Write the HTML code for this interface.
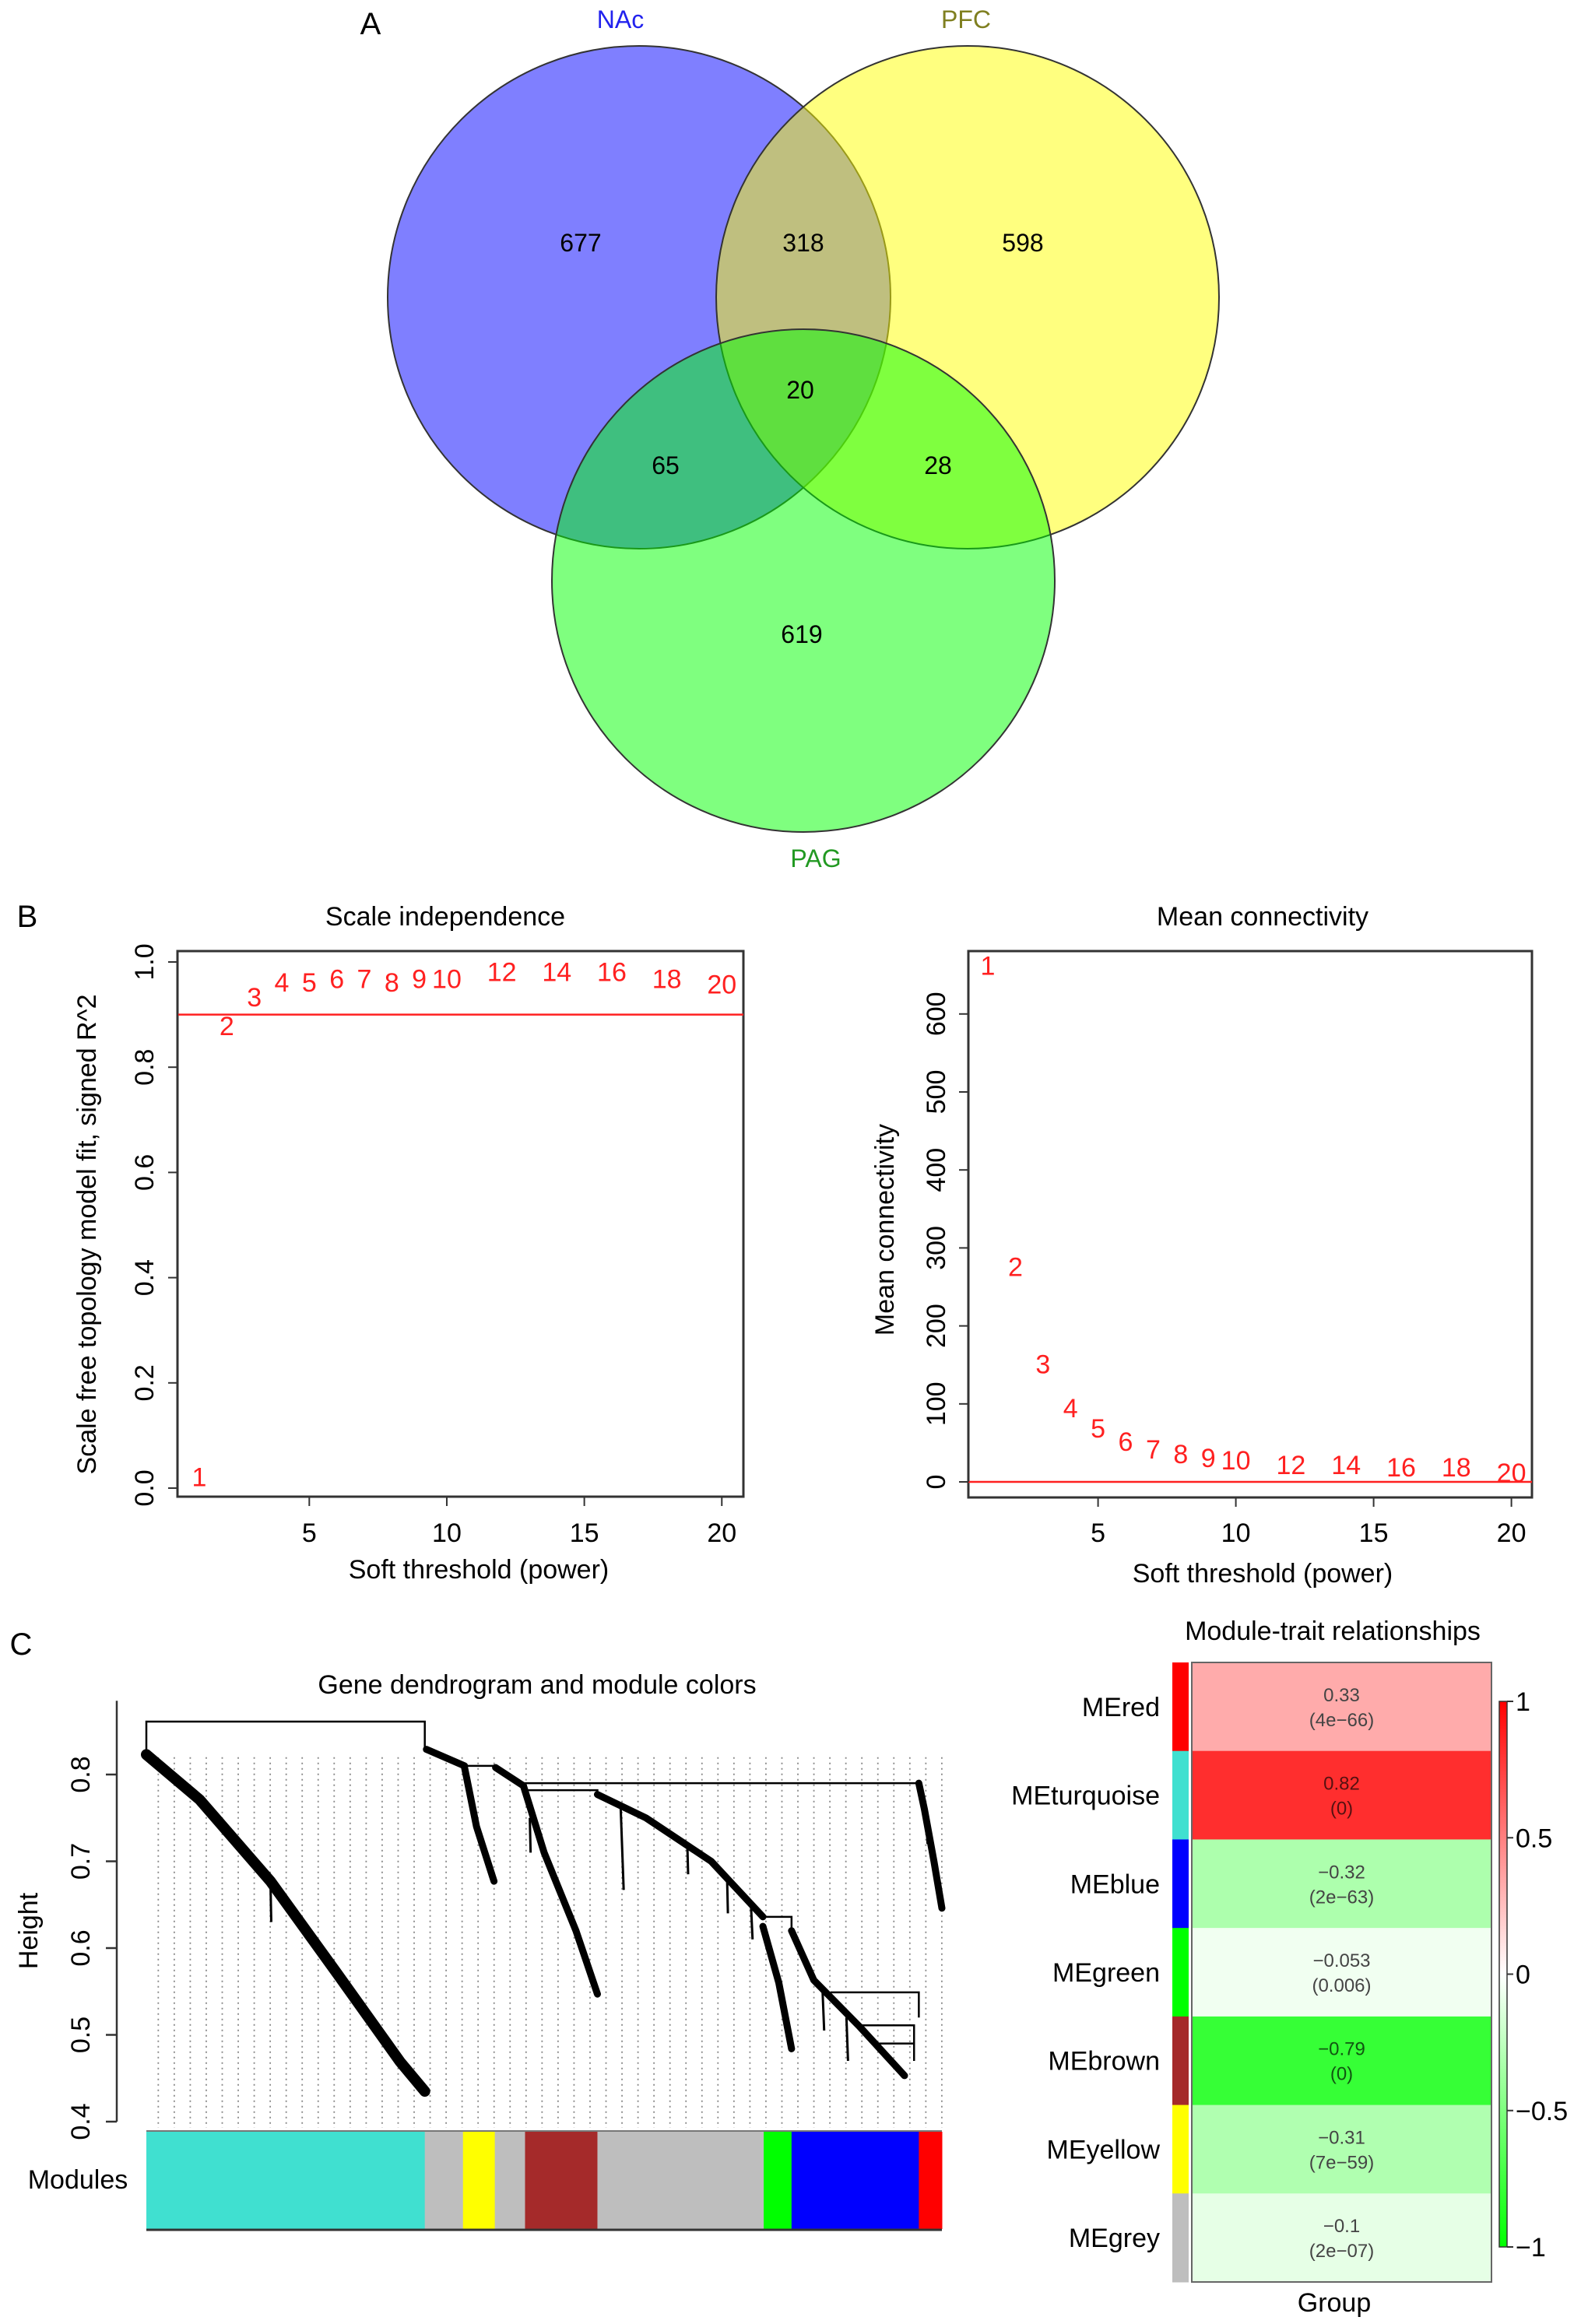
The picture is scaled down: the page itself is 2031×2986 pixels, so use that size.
<!DOCTYPE html>
<html><head><meta charset="utf-8"><style>
html,body{margin:0;padding:0;background:#fff}
svg{display:block;font-family:"Liberation Sans",sans-serif}
</style></head><body>
<svg id="fig" width="2031" height="2986" viewBox="0 0 2031 2986" xmlns="http://www.w3.org/2000/svg">
<rect width="2031" height="2986" fill="#fff"/>
<g transform="translate(-4,-2)">
<text x="480" y="46" font-size="40" text-anchor="middle">A</text>
<circle cx="825" cy="384" r="323" fill="#0000ff" fill-opacity="0.5" stroke="#333" stroke-width="2"/>
<circle cx="1247" cy="384" r="323" fill="#ffff00" fill-opacity="0.5" stroke="#333" stroke-width="2"/>
<circle cx="1036" cy="748" r="323" fill="#00ff00" fill-opacity="0.5" stroke="#333" stroke-width="2"/>
<g font-size="32" text-anchor="middle" fill="#000">
<text x="801" y="38" fill="#2222ee">NAc</text>
<text x="1245" y="38" fill="#7f7f20">PFC</text>
<text x="1052" y="1116" fill="#229922">PAG</text>
<text x="750" y="325">677</text>
<text x="1036" y="325">318</text>
<text x="1318" y="325">598</text>
<text x="1032" y="514">20</text>
<text x="859" y="611">65</text>
<text x="1209" y="611">28</text>
<text x="1034" y="828">619</text>
</g>
</g>
<text x="35" y="1191" font-size="40" text-anchor="middle">B</text>
<text x="27" y="2126" font-size="40" text-anchor="middle">C</text>
<g id="gB1"></g>
<g id="gB2"></g>
<g id="gC1"></g>
<g id="gC2"></g>
<defs>
<linearGradient id="cbar" x1="0" y1="0" x2="0" y2="1">
<stop offset="0" stop-color="#ff0000"/><stop offset="0.5" stop-color="#ffffff"/><stop offset="1" stop-color="#00ff00"/>
</linearGradient>
</defs>
</svg>
<script>
const powers = [1,2,3,4,5,6,7,8,9,10,12,14,16,18,20];
const sftR2 = [0.02,0.877,0.932,0.96,0.96,0.967,0.967,0.96,0.967,0.967,0.98,0.98,0.98,0.967,0.956];
const meanK = [655,269,144,88,62,45,35,29,24,21,15,15,12,12,5];
const r2Ticks = [0,0.2,0.4,0.6,0.8,1.0];
const r2TickLabels = ["0.0","0.2","0.4","0.6","0.8","1.0"];
const kTicks = [0,100,200,300,400,500,600];
const xTicks = [5,10,15,20];
const r2Cutoff = 0.9;
const kCutoff = 0;
const moduleNames = ["MEred","MEturquoise","MEblue","MEgreen","MEbrown","MEyellow","MEgrey"];
const moduleColors = ["#ff0000","#40e0d0","#0000ff","#00ff00","#a52a2a","#ffff00","#bebebe"];
const corrValues = [0.33,0.82,-0.32,-0.053,-0.79,-0.31,-0.1];
const pValues = ["(4e\u221266)","(0)","(2e\u221263)","(0.006)","(0)","(7e\u221259)","(2e\u221207)"];
const cbarTicks = [1,0.5,0,-0.5,-1];
const cbarTickLabels = ["1","0.5","0","\u22120.5","\u22121"];
const heightTicks = [0.4,0.5,0.6,0.7,0.8];
const barModules = ["#40e0d0","#bebebe","#ffff00","#bebebe","#a52a2a","#bebebe","#00ff00","#0000ff","#ff0000"];
const barBreaks = [0,0.35,0.398,0.438,0.476,0.567,0.776,0.811,0.971,1.0];
const mainBranches = [
 [[0,0.823],[0.067,0.771],[0.156,0.677],[0.238,0.573],[0.319,0.469],[0.35,0.435]],
 [[0.352,0.829],[0.4,0.81]],
 [[0.4,0.808],[0.415,0.74],[0.437,0.677]],
 [[0.439,0.808],[0.474,0.787]],
 [[0.474,0.787],[0.5,0.71],[0.54,0.62],[0.567,0.547]],
 [[0.567,0.777],[0.628,0.75],[0.71,0.70],[0.775,0.636]],
 [[0.775,0.625],[0.795,0.56],[0.811,0.484]],
 [[0.811,0.62],[0.839,0.563],[0.896,0.51],[0.953,0.453]],
 [[0.971,0.79],[0.978,0.76],[0.99,0.70],[1.0,0.646]]
];
const mergeLines = [
 [[0,0.823],[0,0.861],[0.35,0.861],[0.35,0.829]],
 [[0.4,0.81],[0.439,0.81],[0.439,0.808]],
 [[0.474,0.79],[0.971,0.79]],
 [[0.48,0.782],[0.567,0.782],[0.567,0.777]],
 [[0.86,0.549],[0.971,0.549],[0.971,0.52]],
 [[0.90,0.511],[0.965,0.511],[0.965,0.49]],
 [[0.92,0.49],[0.965,0.49],[0.965,0.47]],
 [[0.775,0.636],[0.811,0.636],[0.811,0.62]]
];
const spurs = [
 [[0.156,0.677],[0.157,0.63]],[[0.596,0.767],[0.6,0.667]],[[0.482,0.75],[0.483,0.71]],
 [[0.68,0.72],[0.681,0.685]],[[0.73,0.68],[0.731,0.64]],[[0.76,0.65],[0.762,0.61]],
 [[0.85,0.55],[0.852,0.505]],[[0.88,0.52],[0.882,0.47]],[[0.98,0.76],[0.982,0.72]]
];

const NS="http://www.w3.org/2000/svg";
const FS=34;
function mk(parent,tag,attrs,text){const e=document.createElementNS(NS,tag);for(const k in attrs)e.setAttribute(k,attrs[k]);if(text!==undefined)e.textContent=text;parent.appendChild(e);return e;}

(function(){
 const g=document.getElementById('gB1');
 const L=228,R=955,T=1222,B=1923;
 const x=v=>256+(v-1)*35.33, y=v=>1912-676*v;
 let e=mk(g,'rect',{x:L,y:T,width:R-L,height:B-T,fill:'none',stroke:'#333','stroke-width':3});
 
 
 e=mk(g,'line',{x1:L,x2:R,y1:y(r2Cutoff),y2:y(r2Cutoff),stroke:'#ff2020','stroke-width':2.5});
 
 
 mk(g,'line',{x1:L,x2:L,y1:y(0),y2:y(1),stroke:'#333','stroke-width':2});
 r2Ticks.forEach((t,i)=>{
  mk(g,'line',{x1:L-12,x2:L,y1:y(t),y2:y(t),stroke:'#333','stroke-width':2});
  e=mk(g,'text',{x:186,y:y(t),'font-size':FS,'text-anchor':'middle','dominant-baseline':'central',transform:`rotate(-90 186 ${y(t)})`},r2TickLabels[i]);
  
  
 });
 xTicks.forEach(t=>{
  mk(g,'line',{x1:x(t),x2:x(t),y1:B,y2:B+12,stroke:'#333','stroke-width':2});
  e=mk(g,'text',{x:x(t),y:1981,'font-size':FS,'text-anchor':'middle'},String(t));
  
  
 });
 powers.forEach((p,i)=>{
  e=mk(g,'text',{x:x(p),y:y(sftR2[i]),'font-size':FS,fill:'#ff2020','text-anchor':'middle','dominant-baseline':'central'},String(p));
  
  
 });
 e=mk(g,'text',{x:572,y:1189,'font-size':FS,'text-anchor':'middle'},'Scale independence');
 
 
 e=mk(g,'text',{x:615,y:2028,'font-size':FS,'text-anchor':'middle'},'Soft threshold (power)');
 
 
 e=mk(g,'text',{x:112,y:1586,'font-size':FS,'text-anchor':'middle','dominant-baseline':'central',transform:'rotate(-90 112 1586)'},'Scale free topology model fit, signed R^2');
 
 
})();

(function(){
 const g=document.getElementById('gB2');
 const L=1244,R=1968,T=1222,B=1924;
 const x=v=>1269+(v-1)*35.4, y=v=>1904-v*1.002;
 let e=mk(g,'rect',{x:L,y:T,width:R-L,height:B-T,fill:'none',stroke:'#333','stroke-width':3});
 
 
 e=mk(g,'line',{x1:L,x2:R,y1:y(kCutoff),y2:y(kCutoff),stroke:'#ff2020','stroke-width':2.5});
 
 
 mk(g,'line',{x1:L,x2:L,y1:y(0),y2:y(600),stroke:'#333','stroke-width':2});
 kTicks.forEach(t=>{
  mk(g,'line',{x1:L-12,x2:L,y1:y(t),y2:y(t),stroke:'#333','stroke-width':2});
  e=mk(g,'text',{x:1203,y:y(t),'font-size':FS,'text-anchor':'middle','dominant-baseline':'central',transform:`rotate(-90 1203 ${y(t)})`},String(t));
  
  
 });
 xTicks.forEach(t=>{
  mk(g,'line',{x1:x(t),x2:x(t),y1:B,y2:B+12,stroke:'#333','stroke-width':2});
  e=mk(g,'text',{x:x(t),y:1981,'font-size':FS,'text-anchor':'middle'},String(t));
  
  
 });
 powers.forEach((p,i)=>{
  e=mk(g,'text',{x:x(p),y:y(meanK[i])-6,'font-size':FS,fill:'#ff2020','text-anchor':'middle','dominant-baseline':'central'},String(p));
  
  
 });
 e=mk(g,'text',{x:1622,y:1189,'font-size':FS,'text-anchor':'middle'},'Mean connectivity');
 
 
 e=mk(g,'text',{x:1622,y:2033,'font-size':FS,'text-anchor':'middle'},'Soft threshold (power)');
 
 
 e=mk(g,'text',{x:1137,y:1580,'font-size':FS,'text-anchor':'middle','dominant-baseline':'central',transform:'rotate(-90 1137 1580)'},'Mean connectivity');
 
 
})();

(function(){
 const g=document.getElementById('gC1');
 const X0=188,X1=1210;
 const x=f=>X0+f*(X1-X0), y=h=>2726-(h-0.4)*1115;
 let e;
 for(let f=0.015;f<1;f+=0.0201){
  e=mk(g,'line',{x1:x(f),x2:x(f),y1:y(0.82),y2:y(0.4)+8,stroke:'#888','stroke-width':1.8,'stroke-dasharray':'2 5'});
  
  
 }
 const pts=a=>a.map(p=>x(p[0])+','+y(p[1])).join(' ');
 mainBranches.forEach((b,i)=>{
  e=mk(g,'polyline',{points:pts(b),fill:'none',stroke:'#000','stroke-width':i===0?14:9,'stroke-linejoin':'round','stroke-linecap':'round'});
  
  
 });
 mergeLines.forEach(b=>{
  e=mk(g,'polyline',{points:pts(b),fill:'none',stroke:'#000','stroke-width':2.5});
  
  
 });
 spurs.forEach(b=>{
  e=mk(g,'polyline',{points:pts(b),fill:'none',stroke:'#000','stroke-width':3});
  
  
 });
 mk(g,'line',{x1:150,x2:150,y1:y(0.4),y2:y(0.885),stroke:'#333','stroke-width':2.5});
 heightTicks.forEach(t=>{
  mk(g,'line',{x1:136,x2:150,y1:y(t),y2:y(t),stroke:'#333','stroke-width':2.5});
  e=mk(g,'text',{x:104,y:y(t),'font-size':FS,'text-anchor':'middle','dominant-baseline':'central',transform:`rotate(-90 104 ${y(t)})`},t.toFixed(1));
  
  
 });
 barModules.forEach((c,i)=>{
  e=mk(g,'rect',{x:x(barBreaks[i]),y:2739,width:x(barBreaks[i+1])-x(barBreaks[i])+0.5,height:125,fill:c});
  
  
 });
 mk(g,'line',{x1:X0,x2:X1,y1:2738,y2:2738,stroke:'#777','stroke-width':2});
 mk(g,'line',{x1:X0,x2:X1,y1:2865,y2:2865,stroke:'#333','stroke-width':3});
 e=mk(g,'text',{x:690,y:2176,'font-size':FS,'text-anchor':'middle'},'Gene dendrogram and module colors');
 
 
 e=mk(g,'text',{x:37,y:2481,'font-size':FS,'text-anchor':'middle','dominant-baseline':'central',transform:'rotate(-90 37 2481)'},'Height');
 
 
 e=mk(g,'text',{x:100,y:2812,'font-size':FS,'text-anchor':'middle'},'Modules');
 
 
})();

(function(){
 const g=document.getElementById('gC2');
 const L=1531,R=1916,T=2136,B=2932,rh=(B-T)/moduleNames.length;
 const col=v=>{const k=Math.round(255*(1-Math.abs(v)));return v>=0?`rgb(255,${k},${k})`:`rgb(${k},255,${k})`;};
 let e;
 moduleNames.forEach((n,i)=>{
  const yy=T+i*rh;
  e=mk(g,'rect',{x:L,y:yy,width:R-L,height:rh+0.5,fill:col(corrValues[i])});
  
  
  e=mk(g,'rect',{x:1506,y:yy,width:21,height:rh+0.5,fill:moduleColors[i]});
  
  
  e=mk(g,'text',{x:1490,y:yy+rh/2+12,'font-size':FS,'text-anchor':'end'},n);
  
  
  const tc=Math.abs(corrValues[i])>0.7?(corrValues[i]>0?'#551111':'#115511'):'#444';
  const v=corrValues[i];
  e=mk(g,'text',{x:(L+R)/2,y:yy+rh/2-7,'font-size':24,'text-anchor':'middle',fill:tc},(v<0?'\u2212':'')+String(Math.abs(v)));
  
  
  e=mk(g,'text',{x:(L+R)/2,y:yy+rh/2+25,'font-size':24,'text-anchor':'middle',fill:tc},pValues[i]);
  
  
 });
 mk(g,'rect',{x:L,y:T,width:R-L,height:B-T,fill:'none',stroke:'#666','stroke-width':2});
 const cy=v=>2536.5-v*350.5;
 e=mk(g,'rect',{x:1926,y:cy(1),width:10,height:cy(-1)-cy(1),fill:'url(#cbar)',stroke:'#333','stroke-width':1.5});
 
 
 cbarTicks.forEach((t,i)=>{
  mk(g,'line',{x1:1936,x2:1944,y1:cy(t),y2:cy(t),stroke:'#333','stroke-width':2});
  e=mk(g,'text',{x:1947,y:cy(t)+12,'font-size':FS},cbarTickLabels[i]);
  
  
 });
 e=mk(g,'text',{x:1712,y:2107,'font-size':FS,'text-anchor':'middle'},'Module-trait relationships');
 
 
 e=mk(g,'text',{x:1714,y:2970,'font-size':FS,'text-anchor':'middle'},'Group');
 
 
})();
</script>
</body></html>
